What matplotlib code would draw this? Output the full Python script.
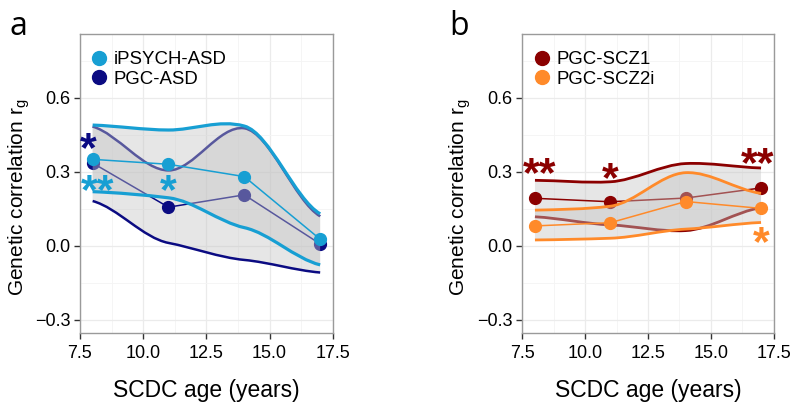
import matplotlib
matplotlib.use("Agg")
import matplotlib.pyplot as plt
import numpy as np
from matplotlib.lines import Line2D
from matplotlib.patches import PathPatch
from matplotlib.path import Path
from matplotlib.transforms import offset_copy

plt.rcParams["font.family"] = ["Liberation Sans", "DejaVu Sans"]

ages = [8, 11, 14, 17]

# panel a: autism
ipsych_asd = [0.351, 0.331, 0.281, 0.027]
ipsych_asd_hi = [0.490, 0.470, 0.486, 0.130]
ipsych_asd_lo = [0.220, 0.195, 0.074, -0.077]
pgc_asd = [0.336, 0.157, 0.207, 0.008]
pgc_asd_hi = [0.484, 0.306, 0.477, 0.120]
pgc_asd_lo = [0.182, 0.012, -0.057, -0.108]

# panel b: schizophrenia
pgc_scz1 = [0.193, 0.179, 0.194, 0.235]
pgc_scz1_hi = [0.266, 0.260, 0.334, 0.316]
pgc_scz1_lo = [0.118, 0.085, 0.062, 0.155]
pgc_scz2i = [0.081, 0.094, 0.180, 0.152]
pgc_scz2i_hi = [0.145, 0.161, 0.297, 0.213]
pgc_scz2i_lo = [0.024, 0.031, 0.068, 0.095]

# significance stars: (label, age, y, series colour key)
stars_a = [("*", 7.82, 0.43, "pgc"), ("**", 8.19, 0.258, "ipsych"), ("*", 11.0, 0.258, "ipsych")]
stars_b = [("**", 8.19, 0.327, "scz1"), ("*", 11.0, 0.307, "scz1"), ("**", 16.85, 0.367, "scz1"),
           ("*", 17.0, 0.048, "scz2i")]

COLORS = {"ipsych": "#179FD3", "pgc": "#0B0B82", "scz1": "#8B0000", "scz2i": "#FF8A2A"}
RIBBON = dict(facecolor="#C4C4C4", alpha=0.42, edgecolor="none")


def curve_codes(xs, ys, k=0.5):
    """Cubic bezier segments through the knots (smoothed tangents)."""
    xs = np.asarray(xs, float)
    ys = np.asarray(ys, float)
    n = len(xs)
    slopes = np.empty(n)
    for i in range(n):
        if i == 0:
            slopes[i] = (ys[1] - ys[0]) / (xs[1] - xs[0])
        elif i == n - 1:
            slopes[i] = (ys[-1] - ys[-2]) / (xs[-1] - xs[-2])
        else:
            slopes[i] = (ys[i + 1] - ys[i - 1]) / (xs[i + 1] - xs[i - 1])
    slopes *= k
    verts = []
    for i in range(n - 1):
        dx = (xs[i + 1] - xs[i]) / 3
        verts += [(xs[i] + dx, ys[i] + slopes[i] * dx),
                  (xs[i + 1] - dx, ys[i + 1] - slopes[i + 1] * dx),
                  (xs[i + 1], ys[i + 1])]
    return [(xs[0], ys[0])] + verts


def draw_series(ax, est, hi, lo, color, edge_lw, z):
    up = curve_codes(ages, hi)
    dn = curve_codes(ages[::-1], lo[::-1])
    verts = up + [dn[0]] + dn[1:] + [up[0]]
    codes = ([Path.MOVETO] + [Path.CURVE4] * (len(up) - 1) + [Path.LINETO]
             + [Path.CURVE4] * (len(dn) - 1) + [Path.CLOSEPOLY])
    ax.add_patch(PathPatch(Path(verts, codes), zorder=z, **RIBBON))
    for bound in (hi, lo):
        c = curve_codes(ages, bound)
        p = Path(c, [Path.MOVETO] + [Path.CURVE4] * (len(c) - 1))
        ax.add_patch(PathPatch(p, facecolor="none", edgecolor=color, lw=edge_lw,
                               capstyle="butt", zorder=z + 1))
    ax.plot(ages, est, color=color, lw=1.1, zorder=z + 2)
    ax.plot(ages, est, "o", color=color, ms=8.5, zorder=z + 3)


def style_axes(ax, label_x):
    ax.set_xlim(7.5, 17.5)
    ax.set_ylim(-0.353, 0.859)
    ax.set_xticks([7.5, 10.0, 12.5, 15.0, 17.5])
    ax.set_yticks([-0.3, 0.0, 0.3, 0.6])
    ax.set_xticks([8.75, 11.25, 13.75, 16.25], minor=True)
    ax.set_yticks([-0.15, 0.15, 0.45, 0.75], minor=True)
    ax.grid(which="major", color="#EBEBEB", lw=0.9, zorder=0)
    ax.grid(which="minor", color="#F4F4F4", lw=0.6, zorder=0)
    ax.tick_params(which="minor", length=0)
    ax.tick_params(which="major", length=4, width=1, color="#333333", labelsize=13,
                   labelcolor="black")
    ax.tick_params(axis="x", pad=5)
    ax.tick_params(axis="y", pad=3)
    for s in ax.spines.values():
        s.set_color("#9A9A9A")
        s.set_linewidth(1.0)
    ax.set_axisbelow(True)
    ax.set_xlabel("SCDC age (years)", fontsize=16.5, labelpad=12)
    ax.set_ylabel(r"Genetic correlation r$_\mathregular{g}$", fontsize=15)
    ax.yaxis.set_label_coords(label_x, 0.453)


def add_stars(ax, stars):
    tr = offset_copy(ax.transData, fig=ax.figure, y=-10, units="dots")
    for txt, x, y, key in stars:
        ax.text(x, y, txt, color=COLORS[key], fontsize=31, fontweight="bold",
                ha="center", va="center", transform=tr, zorder=12)


def add_legend(ax, names, keys):
    handles = [Line2D([], [], ls="none", marker="o", ms=10, color=COLORS[k]) for k in keys]
    ax.legend(handles, names, loc="upper left", bbox_to_anchor=(0.036, 0.942),
              frameon=False, fontsize=13.4, handletextpad=0.22, labelspacing=0.12,
              borderaxespad=0, borderpad=0, handlelength=1.1)


fig = plt.figure(figsize=(8.0, 4.11), dpi=100)
ax_a = fig.add_axes([0.100, 0.190, 0.316, 0.727])
ax_b = fig.add_axes([0.653, 0.190, 0.314, 0.727])

style_axes(ax_a, -0.19)
draw_series(ax_a, pgc_asd, pgc_asd_hi, pgc_asd_lo, COLORS["pgc"], 1.8, 2)
draw_series(ax_a, ipsych_asd, ipsych_asd_hi, ipsych_asd_lo, COLORS["ipsych"], 2.3, 6)
add_stars(ax_a, stars_a)
add_legend(ax_a, ["iPSYCH-ASD", "PGC-ASD"], ["ipsych", "pgc"])

style_axes(ax_b, -0.195)
draw_series(ax_b, pgc_scz1, pgc_scz1_hi, pgc_scz1_lo, COLORS["scz1"], 2.0, 2)
draw_series(ax_b, pgc_scz2i, pgc_scz2i_hi, pgc_scz2i_lo, COLORS["scz2i"], 2.0, 6)
add_stars(ax_b, stars_b)
add_legend(ax_b, ["PGC-SCZ1", "PGC-SCZ2i"], ["scz1", "scz2i"])

fig.text(0.012, 0.975, "a", fontsize=23, family="Open Sans", va="top")
fig.text(0.562, 0.975, "b", fontsize=23, family="Open Sans", va="top")

fig.savefig("out.png", dpi=100)
